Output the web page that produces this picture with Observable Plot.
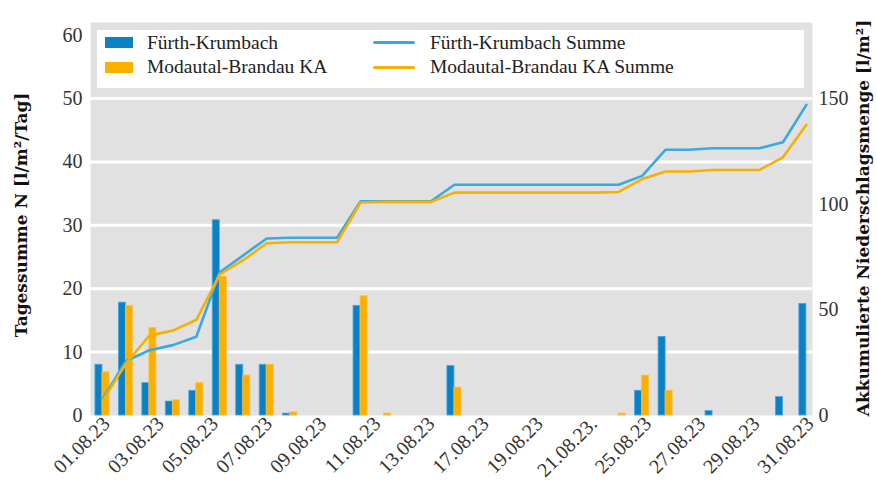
<!DOCTYPE html>
<html>
<head>
<meta charset="utf-8">
<script src="https://cdn.jsdelivr.net/npm/d3@7"></script>
<script src="https://cdn.jsdelivr.net/npm/@observablehq/plot@0.6"></script>
<style>
  html, body { margin: 0; padding: 0; background: #fff; }
  #wrap { position: relative; width: 877px; height: 481px; font-family: "Liberation Serif", serif; color: #222; }
  #legend { position: absolute; left: 97px; top: 30px; width: 707px; height: 58px; background: #fff; }
  .sw { position: absolute; }
  .lt { position: absolute; font-size: 19.5px; line-height: 19.5px; white-space: nowrap; color: #222; }
  .ytitle { position: absolute; font-family: "DejaVu Serif", serif; font-weight: bold; font-size: 17px; white-space: nowrap; color: #111; transform-origin: center center; }
</style>
</head>
<body>
<div id="wrap"></div>
<script>
// ---- data ----
const days = ["01.08.23","02.08.23","03.08.23","04.08.23","05.08.23","06.08.23","07.08.23","08.08.23","09.08.23","10.08.23",
  "11.08.23","12.08.23","13.08.23","14.08.23","15.08.23","16.08.23","17.08.23","18.08.23","19.08.23","20.08.23",
  "21.08.23","22.08.23","23.08.23","24.08.23","25.08.23","26.08.23","27.08.23","28.08.23","29.08.23","30.08.23","31.08.23"];
const xLabels = ["01.08.23","03.08.23","05.08.23","07.08.23","09.08.23","11.08.23","13.08.23","17.08.23","19.08.23","21.08.23.","25.08.23","27.08.23","29.08.23","31.08.23"];
const fuerth   = [8.0, 17.8, 5.1, 2.2, 3.9, 30.8, 8.0, 8.0, 0.3, 0, 0, 17.3, 0, 0, 0, 7.8, 0, 0, 0, 0, 0, 0, 0, 3.9, 12.4, 0, 0.7, 0, 0, 2.9, 17.6];
const modautal = [6.8, 17.3, 13.8, 2.4, 5.1, 21.9, 6.3, 8.0, 0.5, 0, 0, 18.8, 0.3, 0, 0, 4.4, 0, 0, 0, 0, 0, 0, 0.3, 6.3, 3.9, 0, 0, 0, 0, 0, 0];
const fuerthSum   = [7.6, 25.8, 30.9, 33.3, 37.3, 67.8, 75.8, 83.8, 84.1, 84.1, 84.1, 101.4, 101.4, 101.4, 101.4, 109.2, 109.2, 109.2, 109.2, 109.2, 109.2, 109.2, 109.2, 113.4, 125.8, 125.8, 126.5, 126.5, 126.5, 129.3, 147.0];
const modautalSum = [6.8, 24.6, 37.8, 40.2, 45.3, 66.8, 73.5, 81.5, 82.0, 82.0, 82.0, 100.8, 101.1, 101.1, 101.1, 105.5, 105.5, 105.5, 105.5, 105.5, 105.5, 105.5, 105.8, 111.9, 115.5, 115.5, 116.2, 116.2, 116.2, 122.2, 137.6];
const leftTicks = [0, 10, 20, 30, 40, 50, 60];
const rightTicks = [0, 50, 100, 150];

const colBlue = "#0a80c6", colBlueEdge = "#4aa6dc", colOrange = "#fbb000", colOrangeEdge = "#fcc040";
const colBlueLine = "#3aa9e1", colOrangeLine = "#f6b000";

const rows = days.map((d, i) => ({i, day: d, f: fuerth[i], m: modautal[i], fs: fuerthSum[i], ms: modautalSum[i]}));
const ratio = 3; // right axis = 3 x left axis
const labelPos = xLabels.map((_, k) => k * (days.length - 1) / (xLabels.length - 1));

const chart = Plot.plot({
  width: 877, height: 481,
  marginLeft: 90, marginRight: 65, marginTop: 22, marginBottom: 66,
  x: {type: "linear", domain: [-0.51, 30.26], axis: null},
  y: {domain: [0, 62], axis: null},
  style: {fontFamily: "Liberation Serif", fontSize: "20px", color: "#333", background: "transparent", overflow: "visible"},
  marks: [
    Plot.frame({fill: "#e1e1e1", stroke: null}),
    Plot.gridY({ticks: [10, 20, 30, 40, 50], stroke: "#ffffff", strokeWidth: 3, strokeOpacity: 1}),
    Plot.rect(rows, {x1: d => d.i - 0.3, x2: d => d.i, y1: 0, y2: "f", fill: colBlue, stroke: colBlueEdge, strokeWidth: 0.8}),
    Plot.rect(rows, {x1: d => d.i, x2: d => d.i + 0.3, y1: 0, y2: "m", fill: colOrange, stroke: colOrangeEdge, strokeWidth: 0.8}),
    Plot.line(rows, {x: "i", y: d => d.fs / ratio, stroke: colBlueLine, strokeWidth: 2.6}),
    Plot.line(rows, {x: "i", y: d => d.ms / ratio, stroke: colOrangeLine, strokeWidth: 2.6}),
    Plot.axisY({anchor: "left", ticks: leftTicks, tickSize: 0, tickPadding: 8, label: null, fill: "#333"}),
    Plot.axisY({anchor: "right", ticks: rightTicks.map(v => v / ratio), tickFormat: d => Math.round(d * ratio), tickSize: 0, tickPadding: 6, label: null, fill: "#333"}),
    Plot.axisX({ticks: labelPos, tickFormat: d => xLabels[Math.round(d * (xLabels.length - 1) / (days.length - 1))], tickRotate: -45, tickSize: 0, tickPadding: 6, dx: 4, dy: -1, label: null, fill: "#333"})
  ]
});

const wrap = document.getElementById("wrap");
chart.style.position = "absolute";
chart.style.left = "0px";
chart.style.top = "0px";
wrap.appendChild(chart);

// legend inside plot area
const legend = document.createElement("div");
legend.id = "legend";
legend.innerHTML = `
  <div class="sw" style="left:8px;top:7px;width:28px;height:11px;background:${colBlue}"></div>
  <div class="lt" style="left:50px;top:3px">Fürth-Krumbach</div>
  <div class="sw" style="left:8px;top:32px;width:28px;height:11px;background:${colOrange}"></div>
  <div class="lt" style="left:50px;top:27px">Modautal-Brandau KA</div>
  <div class="sw" style="left:276px;top:11px;width:42px;height:3px;border-radius:2px;background:${colBlueLine}"></div>
  <div class="lt" style="left:333px;top:3px">Fürth-Krumbach Summe</div>
  <div class="sw" style="left:276px;top:36px;width:42px;height:3px;border-radius:2px;background:${colOrangeLine}"></div>
  <div class="lt" style="left:333px;top:27px">Modautal-Brandau KA Summe</div>`;
wrap.appendChild(legend);

// axis titles
const lt = document.createElement("div");
lt.className = "ytitle";
lt.textContent = "Tagessumme N [l/m²/Tag]";
wrap.appendChild(lt);
const rt = document.createElement("div");
rt.className = "ytitle";
rt.textContent = "Akkumulierte Niederschlagsmenge [l/m²]";
wrap.appendChild(rt);
function place(el, cx, cy) {
  const w = el.offsetWidth, h = el.offsetHeight;
  el.style.left = (cx - w / 2) + "px";
  el.style.top = (cy - h / 2) + "px";
  el.style.transform = "rotate(-90deg)";
}
place(lt, 21, 215);
place(rt, 863, 218);
</script>
</body>
</html>
